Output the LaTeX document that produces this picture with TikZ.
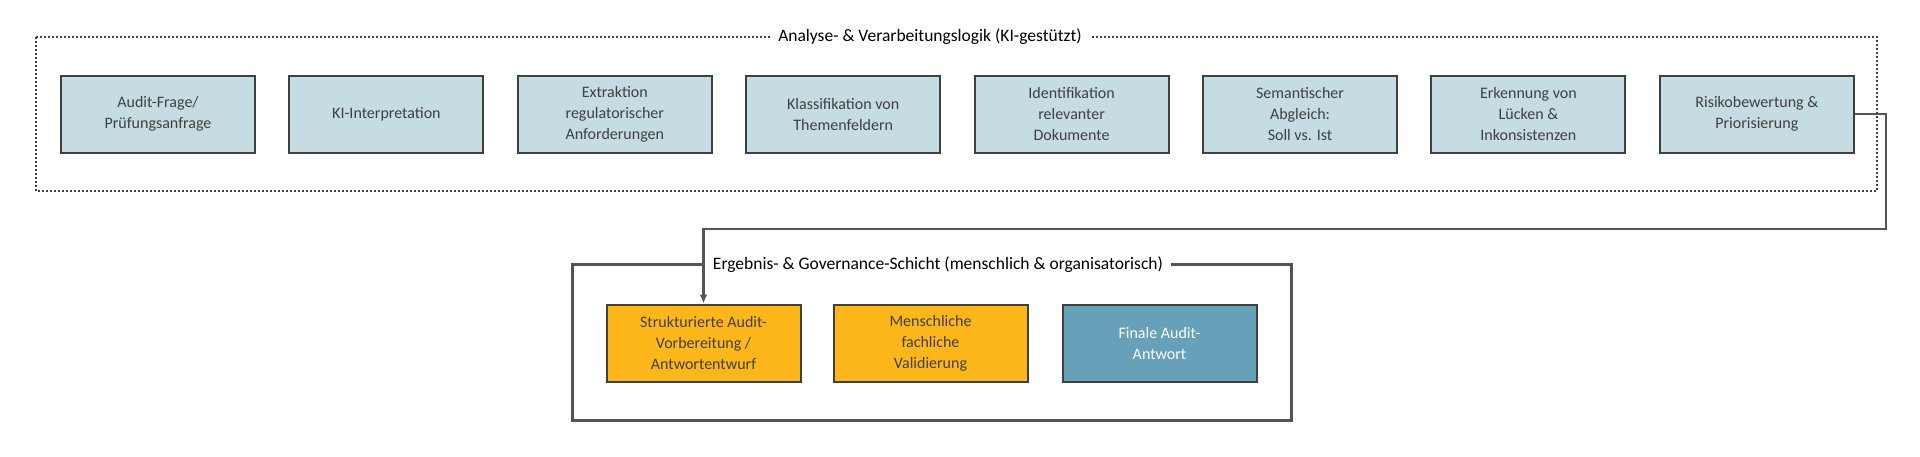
\documentclass[tikz,border=0pt]{standalone}
\usepackage{fontspec}
\setmainfont{Carlito}
\usetikzlibrary{arrows.meta}
\definecolor{lb}{HTML}{C5DCE3}
\definecolor{og}{HTML}{FDB71A}
\definecolor{tb}{HTML}{66A1B9}
\definecolor{dg}{HTML}{404040}
\definecolor{fr}{HTML}{555555}
\begin{document}
\begin{tikzpicture}[x=1pt,y=-1pt,
  box/.style={draw=dg,line width=2pt,minimum width=194pt,minimum height=77pt,align=center,text=dg,font=\fontsize{16}{21}\selectfont,inner sep=2pt},
  ai/.style={box,fill=lb},
  hum/.style={box,fill=og},
  fin/.style={box,fill=tb,text=white},
  ttl/.style={fill=white,font=\fontsize{17.5}{21}\selectfont,text=black,inner xsep=8pt},
  conn/.style={draw=fr,line width=2.5pt}]
\useasboundingbox (0,0) rectangle (1920,456);
% frames
\draw[dg,line width=2pt,dotted] (36,37) rectangle (1877,191);
\draw[fr,line width=3pt] (572,264) rectangle (1291,420);
% top boxes
\foreach \i/\t in {0/{Audit-Frage/\\Prüfungsanfrage},1/{KI-Interpretation},2/{Extraktion\\regulatorischer\\Anforderungen},3/{Klassifikation von\\Themenfeldern},4/{Identifikation\\relevanter\\Dokumente},5/{Semantischer\\Abgleich:\\Soll vs. Ist},6/{Erkennung von\\Lücken \&\\Inkonsistenzen},7/{Risikobewertung \&\\Priorisierung}}
  \node[ai] (a\i) at ({158+228.4*\i},114) {\t};
% bottom boxes
\node[hum] (b0) at (703.5,343) {Strukturierte Audit-\\Vorbereitung /\\Antwortentwurf};
\node[hum] (b1) at (930.5,343) {Menschliche\\fachliche\\Validierung};
\node[fin] (b2) at (1159.5,343) {Finale Audit-\\Antwort};
% connector
\coordinate (c1) at (1886,114);
\coordinate (c2) at (1886,229);
\coordinate (c3) at (703.5,229);
\draw[conn,-{Latex[length=9pt,width=8pt]}] (a7.east) -- (c1) -- (c2) -- (c3) -- (b0.north);
% titles
\node[ttl] (t1) at (930,37) {Analyse- \& Verarbeitungslogik (KI-gestützt)};
\node[ttl,inner ysep=18pt] (t2) at (938,265) {Ergebnis- \& Governance-Schicht (menschlich \& organisatorisch)};
\end{tikzpicture}
\end{document}
